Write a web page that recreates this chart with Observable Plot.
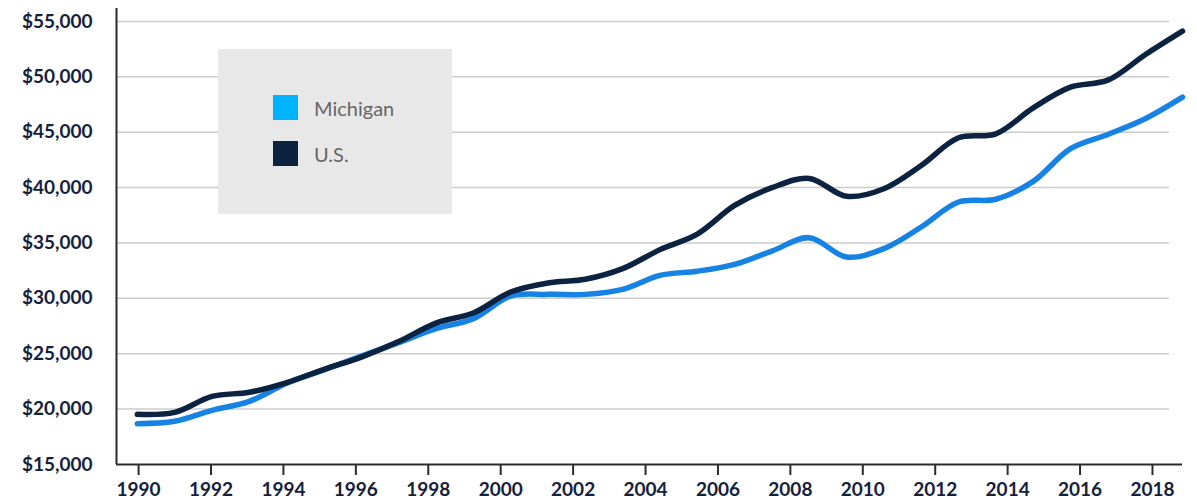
<!DOCTYPE html>
<html>
<head>
<meta charset="utf-8">
<script src="https://cdn.jsdelivr.net/npm/d3@7"></script>
<script src="https://cdn.jsdelivr.net/npm/@observablehq/plot@0.6"></script>
<style>
  html, body { margin: 0; padding: 0; background: #fff; }
  #wrap { position: relative; width: 1197px; height: 503px; overflow: hidden; }
  #wrap > svg, #wrap > div.layer { position: absolute; left: 0; top: 0; }
  #legend {
    position: absolute; left: 218px; top: 49px; width: 234px; height: 165px;
    background: #e8e8e8; box-sizing: border-box; padding: 46px 0 0 55px;
    font-family: Lato, "Open Sans", sans-serif; font-size: 20px; color: #666;
  }
  .item { display: flex; align-items: center; height: 25px; margin-bottom: 21px; }
  .sw { width: 25px; height: 25px; margin-right: 16px; }
</style>
</head>
<body>
<div id="wrap"></div>
<script>
// ---- data ----
const years = [1990,1991,1992,1993,1994,1995,1996,1997,1998,1999,2000,2001,2002,2003,2004,2005,2006,2007,2008,2009,2010,2011,2012,2013,2014,2015,2016,2017,2018];
const michigan = [18690,18900,19890,20700,22330,23540,24800,26000,27260,28170,30210,30360,30360,30810,32080,32450,33070,34270,35480,33730,34490,36440,38700,38950,40560,43510,44800,46220,48170];
const us = [19530,19710,21150,21520,22400,23590,24700,26100,27770,28680,30570,31390,31720,32680,34400,35800,38390,39990,40830,39210,39900,42000,44500,44850,47200,49070,49700,52000,54125];
const seriesNames = ["Michigan", "U.S."];
const lineColors = ["#1683e4", "#0c2241"];
const legendColors = ["#00b3fd", "#0c2241"];
const yTicks = [15000,20000,25000,30000,35000,40000,45000,50000,55000];
const xTicks = [1990,1992,1994,1996,1998,2000,2002,2004,2006,2008,2010,2012,2014,2016,2018];

const rows = [];
years.forEach((y, i) => {
  rows.push({year: y, value: michigan[i], series: seriesNames[0]});
  rows.push({year: y, value: us[i], series: seriesNames[1]});
});

const W = 1197, H = 503;
const yDomain = [15000, 56170];
const ink = "#14213d";
const common = {width: W, height: H, marginTop: 8, marginBottom: 39, marginLeft: 116};

// Layer A: grid, y axis labels, x axis ticks/labels
const plotA = Plot.plot({
  ...common,
  marginRight: 28,
  x: {domain: [1989.39, 2018.47], axis: null},
  y: {domain: yDomain, axis: null},
  style: {fontFamily: "Lato, 'Open Sans', sans-serif", fontSize: "19px", fontWeight: 700, color: ink, background: "transparent"},
  marks: [
    Plot.ruleY(yTicks.slice(1), {stroke: "#cccccc", strokeWidth: 1.5}),
    Plot.axisY(yTicks, {tickSize: 0, tickPadding: 24, tickFormat: d => "$" + d3.format(",")(d), fill: ink}),
    Plot.axisX(xTicks, {tickSize: 11, tickPadding: 7, tickFormat: d => String(d), stroke: "#2b2b2b", strokeWidth: 2, fill: ink})
  ]
});

// Layer C: lines + axis lines
const plotC = Plot.plot({
  ...common,
  marginRight: 15,
  x: {domain: [1989.44, 2018], axis: null},
  y: {domain: yDomain, axis: null},
  color: {domain: seriesNames, range: lineColors},
  style: {background: "transparent"},
  marks: [
    Plot.ruleY([yDomain[0]], {stroke: "#2b2b2b", strokeWidth: 2}),
    Plot.ruleX([1989.44], {stroke: "#2b2b2b", strokeWidth: 2}),
    Plot.line(rows, {x: "year", y: "value", z: "series", stroke: "series", strokeWidth: 5.5, curve: "catmull-rom"})
  ]
});

const wrap = document.getElementById("wrap");
wrap.appendChild(plotA);
const legend = document.createElement("div");
legend.id = "legend";
seriesNames.forEach((n, i) => {
  const it = document.createElement("div");
  it.className = "item";
  const sw = document.createElement("div");
  sw.className = "sw";
  sw.style.background = legendColors[i];
  const tx = document.createElement("span");
  tx.textContent = n;
  it.appendChild(sw); it.appendChild(tx);
  legend.appendChild(it);
});
wrap.appendChild(legend);
wrap.appendChild(plotC);
</script>
</body>
</html>
